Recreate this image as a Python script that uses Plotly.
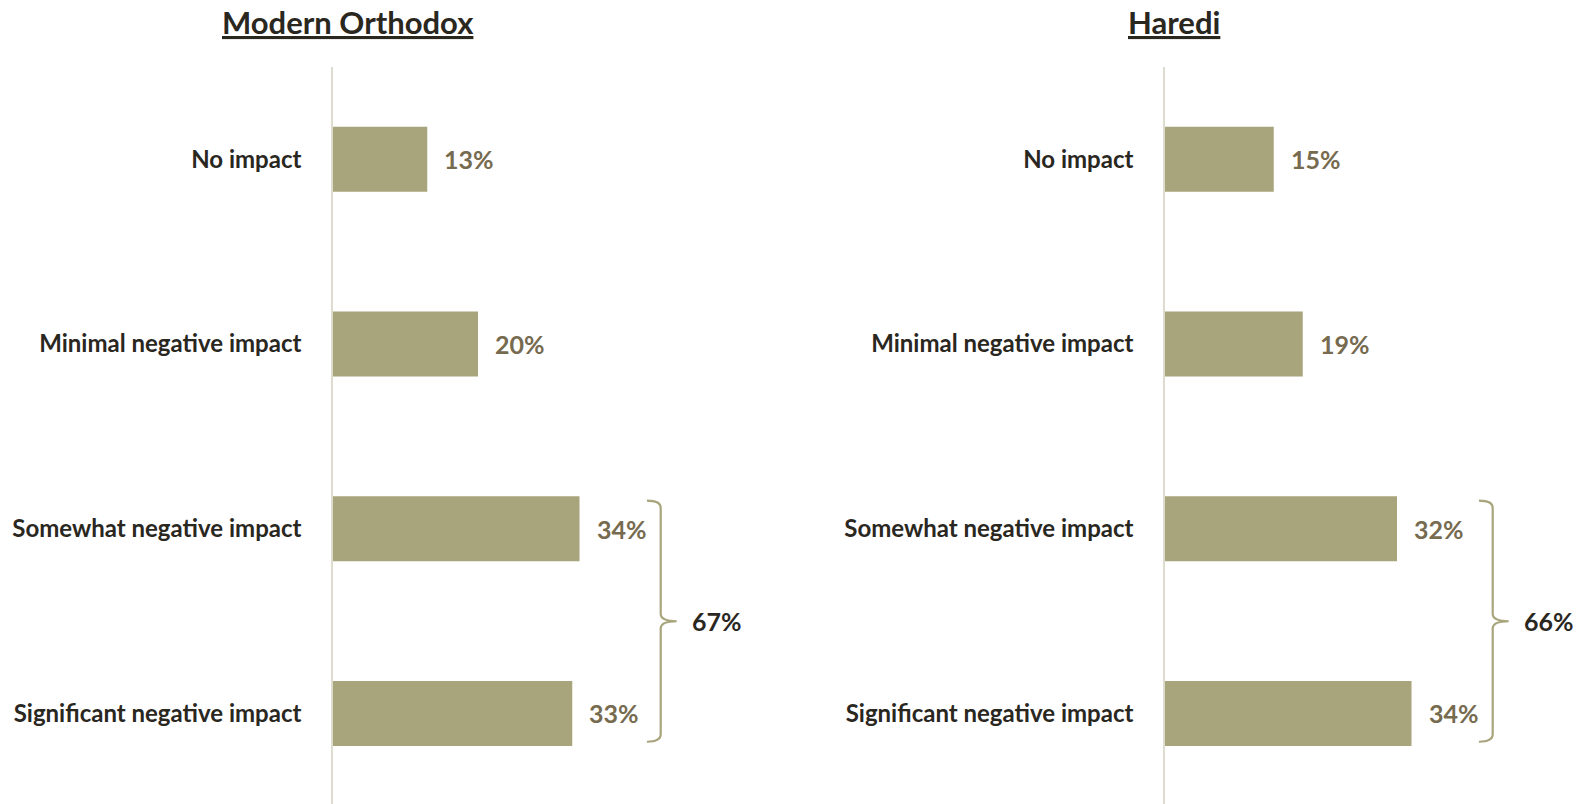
import plotly.graph_objects as go

# Survey responses: perceived impact, by community
categories = [
    "No impact",
    "Minimal negative impact",
    "Somewhat negative impact",
    "Significant negative impact",
]
modern_orthodox = [13, 20, 34, 33]
haredi = [15, 19, 32, 34]
panel_titles = ["Modern Orthodox", "Haredi"]

BAR = "#A8A47C"
VALUE_TXT = "#766A4F"
DARK = "#2A271F"
AXIS_LINE = "#DEDCCF"
FONT = "Lato"

W, H = 1583, 804
TOP = 67
PX_PER_UNIT = 7.25
AX_LEFT = [333, 1165]
DOMAIN_PX = 415
X_MAX = DOMAIN_PX / PX_PER_UNIT
PLOT_H = H - TOP

fig = go.Figure()
series = [modern_orthodox, haredi]

for i, vals in enumerate(series):
    xa = "x" if i == 0 else "x2"
    ya = "y" if i == 0 else "y2"
    fig.add_trace(go.Bar(
        x=vals, y=categories, orientation="h",
        marker=dict(color=BAR, line=dict(width=0)),
        xaxis=xa, yaxis=ya, hoverinfo="skip", showlegend=False,
    ))
    # value labels to the right of each bar
    for c, v in zip(categories, vals):
        fig.add_annotation(
            x=v, y=c, xref=xa, yref=ya, text=f"<b>{v}%</b>",
            showarrow=False, xanchor="left", yanchor="middle", xshift=15,
            font=dict(family=FONT, size=25, color=VALUE_TXT),
        )

    # brace grouping the two negative-impact categories
    i_top, i_bot = 2, 3
    yt, yb = i_top - 0.152, i_bot + 0.153
    ym = (yt + yb) / 2
    x1 = 45.2
    x0 = x1 - 1.9
    x2 = x1 + 2.2
    c = 0.04
    path = (
        f"M {x0},{yt} Q {x1},{yt} {x1},{yt + c} "
        f"L {x1},{ym - c} Q {x1},{ym} {x2},{ym} "
        f"Q {x1},{ym} {x1},{ym + c} "
        f"L {x1},{yb - c} Q {x1},{yb} {x0},{yb}"
    )
    fig.add_shape(type="path", path=path, xref=xa, yref=ya,
                  line=dict(color=BAR, width=2.2))
    total = vals[i_top] + vals[i_bot]
    fig.add_annotation(
        x=x2, y=ym, xref=xa, yref=ya, text=f"<b>{total}%</b>",
        showarrow=False, xanchor="left", yanchor="middle", xshift=13,
        font=dict(family=FONT, size=25, color=DARK),
    )

    # panel title
    fig.add_annotation(
        x=(AX_LEFT[i] + (15 if i == 0 else 9)) / W,
        y=1 + (TOP - 22) / PLOT_H,
        xref="paper", yref="paper",
        text=f"<b><u>{panel_titles[i]}</u></b>", showarrow=False,
        xanchor="center", yanchor="middle",
        font=dict(family=FONT, size=31, color=DARK),
    )

xaxis_common = dict(range=[0, X_MAX], visible=False, fixedrange=True)
yaxis_common = dict(
    categoryorder="array", categoryarray=categories,
    range=[3.49, -0.5], showline=True, linecolor=AXIS_LINE, linewidth=1.5,
    showgrid=False, zeroline=False, ticks="outside", ticklen=25,
    tickcolor="rgba(0,0,0,0)",
    tickfont=dict(family=FONT, size=24, color=DARK, weight="bold"),
)

fig.update_layout(
    width=W, height=H,
    margin=dict(l=0, r=0, t=TOP, b=0),
    paper_bgcolor="white", plot_bgcolor="white",
    bargap=0.648,
    xaxis=dict(domain=[AX_LEFT[0] / W, (AX_LEFT[0] + DOMAIN_PX) / W], anchor="y", **xaxis_common),
    xaxis2=dict(domain=[AX_LEFT[1] / W, (AX_LEFT[1] + DOMAIN_PX) / W], anchor="y2", **xaxis_common),
    yaxis=dict(anchor="x", **yaxis_common),
    yaxis2=dict(anchor="x2", **yaxis_common),
)

fig.write_html("out.html")
